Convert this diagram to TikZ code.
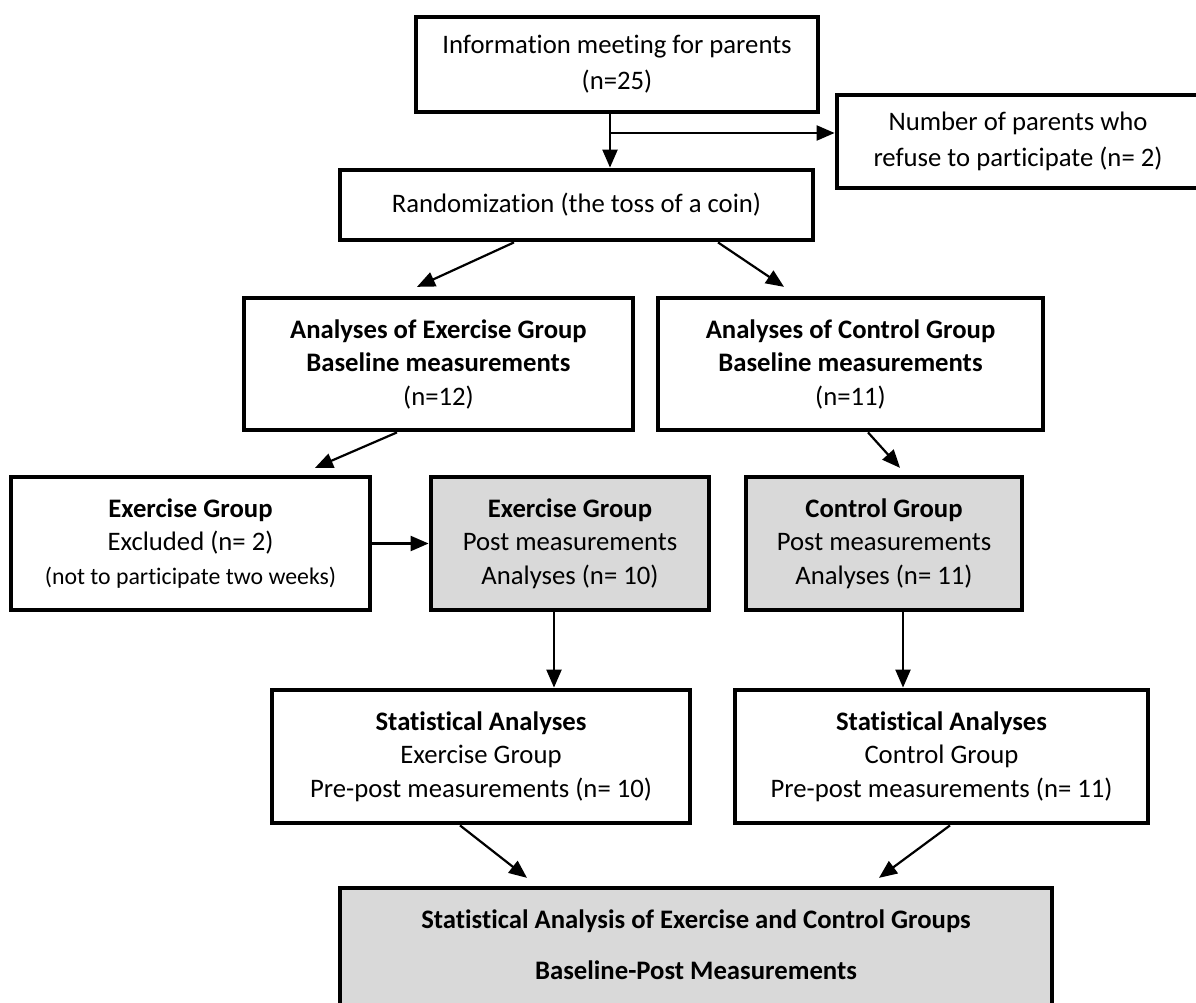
\documentclass[tikz,border=0pt]{standalone}
\usepackage{fontspec}
\setmainfont{Carlito}[Ligatures=NoCommon, Contextuals=NoAlternate]
\usetikzlibrary{arrows.meta}
\definecolor{boxgray}{HTML}{D9D9D9}
\begin{document}
\begin{tikzpicture}[x=1pt,y=-1pt,
  txt/.style={align=center, font=\fontsize{26.7}{33.5}\selectfont, inner sep=0pt},
  box/.style={draw, line width=4.8pt, txt, fill=white},
  gbox/.style={box, fill=boxgray},
  arr/.style={line width=2.2pt, -{Triangle[length=18pt,width=15pt]}}]
\useasboundingbox (0,0) rectangle (1196,1003);

\node[box, minimum width=402, minimum height=95] (info) at (617,64.5)
  {Information meeting for parents\\[2.5pt](n=25)};
\node[box, minimum width=362, minimum height=93] (refuse) at (1018,141.5)
  {Number of parents who\\[3pt]refuse to participate (n= 2)};
\node[box, minimum width=473, minimum height=70] (rand) at (576.5,205)
  {Randomization (the toss of a coin)};
\node[box, minimum width=389, minimum height=132] (bex) at (438.5,364)
  {\textbf{Analyses of Exercise Group}\\\textbf{Baseline measurements}\\(n=12)};
\node[box, minimum width=385, minimum height=132] (bct) at (850.5,364)
  {\textbf{Analyses of Control Group}\\\textbf{Baseline measurements}\\(n=11)};
\node[box, minimum width=359, minimum height=133] (excl) at (190.5,543.5)
  {\textbf{Exercise Group}\\Excluded (n= 2)\\{\fontsize{23.8}{33.5}\selectfont(not to participate two weeks)}};
\node[gbox, minimum width=278, minimum height=133] (epost) at (570,543.5)
  {\textbf{Exercise Group}\\Post measurements\\Analyses (n= 10)};
\node[gbox, minimum width=276, minimum height=133] (cpost) at (884,543.5)
  {\textbf{Control Group}\\Post measurements\\Analyses (n= 11)};
\node[box, minimum width=418, minimum height=133] (sex) at (481,756.5)
  {\textbf{Statistical Analyses}\\Exercise Group\\Pre-post measurements (n= 10)};
\node[box, minimum width=413, minimum height=133] (sct) at (941.5,756.5)
  {\textbf{Statistical Analyses}\\Control Group\\Pre-post measurements (n= 11)};
\node[gbox, minimum width=712, minimum height=142,
  label={[txt, yshift=14.5pt]center:{\textbf{Statistical Analysis of Exercise and Control Groups}\\[17.5pt]\textbf{Baseline-Post Measurements}}}] (final) at (696,959) {};

\coordinate (j) at (610,133);
\draw[arr] (info.south -| j) -- (rand.north -| j);
\draw[arr] (j) -- (j -| refuse.west);

\draw[arr] ([xshift=-62.5pt]rand.south) -- ([xshift=-21.5pt,yshift=8.75pt]bex.north);
\draw[arr] ([xshift=141.5pt]rand.south) -- ([xshift=-66.5pt,yshift=8.75pt]bct.north);
\draw[arr] ([xshift=-41.5pt]bex.south) -- ([xshift=124.5pt,yshift=6.75pt]excl.north);
\draw[arr] ([xshift=17.5pt]bct.south) -- ([xshift=16pt,yshift=6.75pt]cpost.north);
\draw[arr] (excl.east) -- (epost.west);
\draw[arr] ([xshift=-16pt]epost.south) -- ([xshift=-16pt]epost.south |- sex.north);
\draw[arr] ([xshift=19pt]cpost.south) -- ([xshift=19pt]cpost.south |- sct.north);
\draw[arr] ([xshift=-21pt]sex.south) -- ([xshift=-169pt,yshift=7.75pt]final.north);
\draw[arr] ([xshift=8.5pt]sct.south) -- ([xshift=183pt,yshift=7.75pt]final.north);
\end{tikzpicture}
\end{document}
